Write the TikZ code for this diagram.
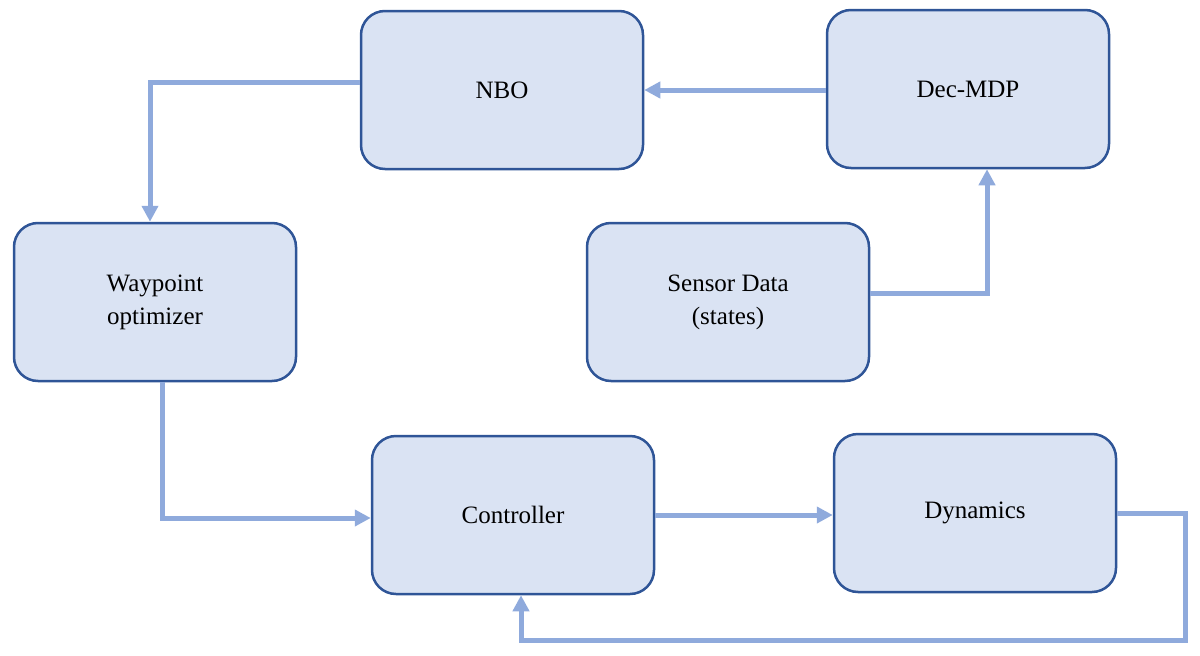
\documentclass[tikz,border=0pt]{standalone}
\usepackage{fontspec}
\setmainfont{Liberation Serif}
\usetikzlibrary{arrows.meta}
\begin{document}
\begin{tikzpicture}[x=1pt,y=-1pt,
  box/.style={draw=blue!40!black!70!cyan, draw={rgb,255:red,47;green,85;blue,151}, line width=2.5pt, fill={rgb,255:red,218;green,227;blue,243}, rounded corners=24pt, minimum width=282pt, minimum height=158pt, align=center, font=\fontsize{25}{33}\selectfont},
  con/.style={draw={rgb,255:red,143;green,170;blue,220}, line width=5pt, -{Triangle[length=16pt,width=16pt]}}]
\useasboundingbox (0,0) rectangle (1200,656);
\node[box] (nbo) at (502,90) {NBO};
\node[box] (dec) at (968,89) {Dec-MDP};
\node[box] (way) at (155,302) {Waypoint\\optimizer};
\node[box] (sen) at (728,302) {Sensor Data\\(states)};
\node[box] (ctl) at (513,515) {Controller};
\node[box] (dyn) at (975,513) {Dynamics};
\draw[con] (nbo.west|-0,82) -| (way.north-|150,0);
\draw[con] (dec.west|-0,90) -- (nbo.east|-0,90);
\draw[con] (sen.east|-0,293) -| (dec.south-|987,0);
\draw[con] (way.south-|162,0) |- (ctl.west|-0,518);
\draw[con] (ctl.east|-0,515) -- (dyn.west|-0,515);
\coordinate (c1) at (1185,513);
\coordinate (c2) at (1185,640);
\draw[con] (dyn.east|-0,513) -- (c1) -- (c2) -| (ctl.south-|521,0);
\end{tikzpicture}
\end{document}
